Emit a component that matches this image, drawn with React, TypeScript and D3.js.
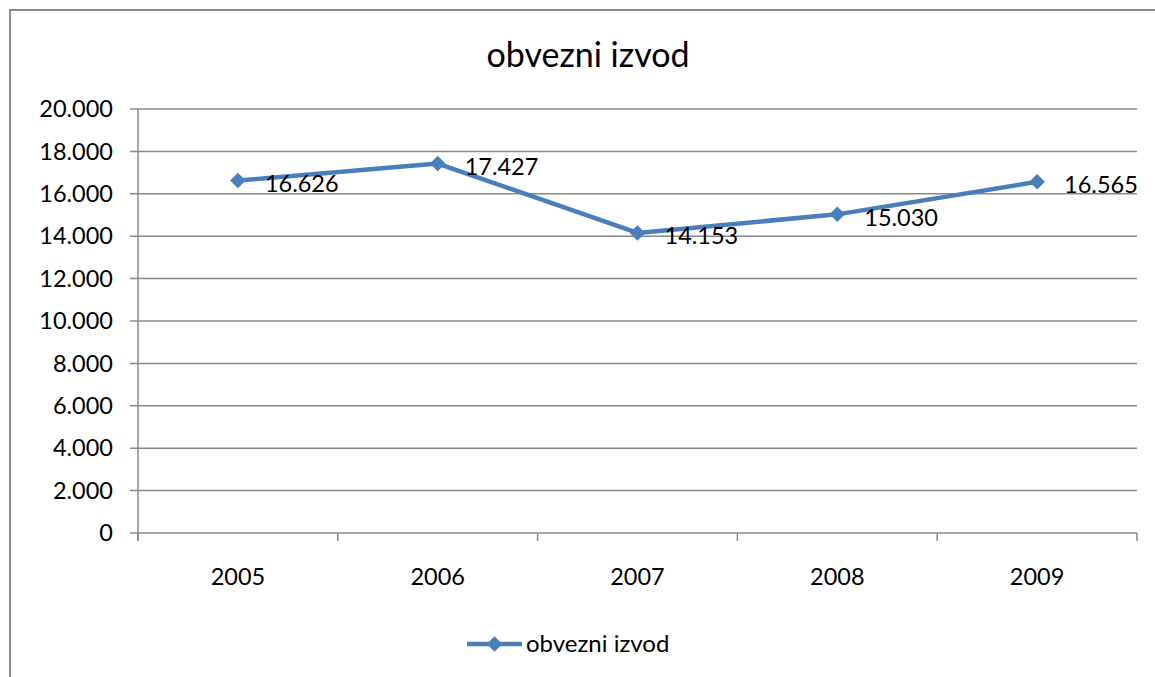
import * as d3 from 'd3';
import { useEffect, useRef } from 'react';

const years = ['2005', '2006', '2007', '2008', '2009'];
const values = [16626, 17427, 14153, 15030, 16565];
const yTicks = [0, 2000, 4000, 6000, 8000, 10000, 12000, 14000, 16000, 18000, 20000];
const seriesName = 'obvezni izvod';
const title = 'obvezni izvod';

const FONT = 'Lato, "Open Sans", sans-serif';
const GRID = '#888888';
const BLUE = '#4a7ebb';

export default function App() {
  const ref = useRef<SVGSVGElement>(null);

  useEffect(() => {
    const svg = d3.select(ref.current);
    svg.selectAll('*').remove();

    const left = 138, right = 1137, top = 109, bottom = 533;
    const fmt = d3.formatLocale({ thousands: '.', grouping: [3], decimal: ',', currency: ['', ''] }).format(',');

    const x = d3.scaleBand<string>().domain(years).range([left, right]).padding(0);
    const y = d3.scaleLinear().domain([0, 20000]).range([bottom, top]);
    const cx = (d: string) => (x(d) as number) + x.bandwidth() / 2;

    // outer frame (cut off at right/bottom)
    svg.append('path')
      .attr('d', 'M10,677 V10 H1155')
      .attr('fill', 'none')
      .attr('stroke', GRID)
      .attr('stroke-width', 2);

    svg.append('text')
      .attr('x', 588).attr('y', 67)
      .attr('text-anchor', 'middle')
      .attr('font-family', FONT)
      .attr('font-size', 34)
      .text(title);

    // gridlines
    svg.append('g').selectAll('line')
      .data(yTicks)
      .enter().append('line')
      .attr('x1', left - 8).attr('x2', right)
      .attr('y1', d => y(d)).attr('y2', d => y(d))
      .attr('stroke', GRID).attr('stroke-width', 1.5);

    // y axis line
    svg.append('line')
      .attr('x1', left).attr('x2', left)
      .attr('y1', top).attr('y2', bottom + 8)
      .attr('stroke', GRID).attr('stroke-width', 1.5);

    // category ticks
    const bounds = years.map(d => x(d) as number).concat([right]);
    svg.append('g').selectAll('line')
      .data(bounds)
      .enter().append('line')
      .attr('x1', d => d).attr('x2', d => d)
      .attr('y1', bottom).attr('y2', bottom + 8)
      .attr('stroke', GRID).attr('stroke-width', 1.5);

    svg.append('g').selectAll('text')
      .data(yTicks)
      .enter().append('text')
      .attr('x', 113).attr('y', d => y(d))
      .attr('dy', '0.35em')
      .attr('text-anchor', 'end')
      .attr('font-family', FONT)
      .attr('font-size', 23.5)
      .text(d => fmt(d));

    svg.append('g').selectAll('text')
      .data(years)
      .enter().append('text')
      .attr('x', d => cx(d)).attr('y', 577)
      .attr('dy', '0.35em')
      .attr('text-anchor', 'middle')
      .attr('font-family', FONT)
      .attr('font-size', 23.5)
      .text(d => d);

    const line = d3.line<number>()
      .x((d, i) => cx(years[i]))
      .y(d => y(d));

    svg.append('path')
      .datum(values)
      .attr('d', line)
      .attr('fill', 'none')
      .attr('stroke', BLUE)
      .attr('stroke-width', 4.5)
      .attr('stroke-linejoin', 'round');

    const diamond = d3.symbol().type(d3.symbolSquare).size(120);
    svg.append('g').selectAll('path')
      .data(values)
      .enter().append('path')
      .attr('d', diamond)
      .attr('transform', (d, i) => `translate(${cx(years[i])},${y(d)}) rotate(45)`)
      .attr('fill', BLUE);

    svg.append('g').selectAll('text')
      .data(values)
      .enter().append('text')
      .attr('x', (d, i) => cx(years[i]) + 27)
      .attr('y', d => y(d) + 3)
      .attr('dy', '0.35em')
      .attr('font-family', FONT)
      .attr('font-size', 23.5)
      .text(d => fmt(d));

    // legend
    const lg = svg.append('g').attr('transform', 'translate(467,644)');
    lg.append('line')
      .attr('x1', 0).attr('x2', 55)
      .attr('stroke', BLUE).attr('stroke-width', 4.5);
    lg.append('path')
      .attr('d', diamond)
      .attr('transform', 'translate(27.5,0) rotate(45)')
      .attr('fill', BLUE);
    lg.append('text')
      .attr('x', 59).attr('dy', '0.35em')
      .attr('font-family', FONT)
      .attr('font-size', 24)
      .text(seriesName);
  }, []);

  return (
    <svg ref={ref} width={1155} height={677}
      style={{ position: 'absolute', left: 0, top: 0, background: '#fff' }} />
  );
}
